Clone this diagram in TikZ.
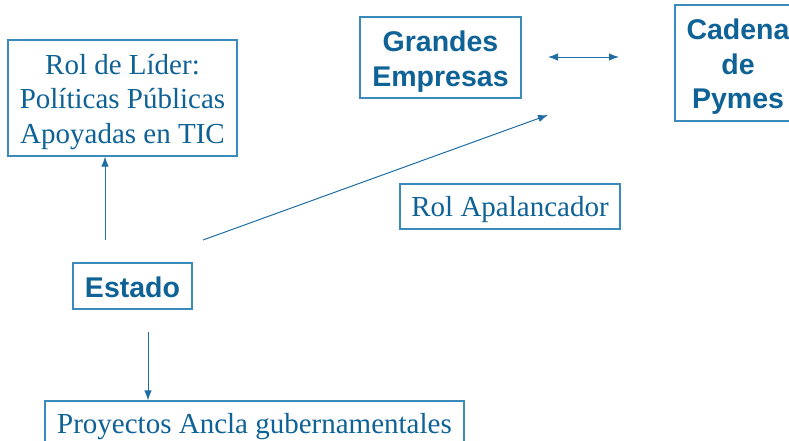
\documentclass[tikz,border=0pt]{standalone}
\usepackage{fontspec}
\setmainfont{Liberation Serif}
\newfontfamily\boldsans{Liberation Sans}
\usetikzlibrary{arrows.meta}
\definecolor{txtblue}{RGB}{14,98,150}
\definecolor{lineblue}{RGB}{58,138,188}
\definecolor{arrowblue}{RGB}{30,110,165}
\tikzset{
  box/.style={draw=lineblue, line width=1.2pt, fill=white, inner sep=0pt},
  seriftext/.style={text=txtblue, align=center, inner sep=0pt, font=\fontsize{29}{34.5}\selectfont},
  sanstext/.style={text=txtblue, align=center, inner sep=0pt, font=\boldsans\bfseries\fontsize{28.5}{34.5}\selectfont},
  tip/.tip={Latex[length=10pt,width=7.5pt]},
  conn/.style={draw=arrowblue, line width=1pt, -tip},
  conn2/.style={draw=arrowblue, line width=1pt, tip-tip}
}
\begin{document}
\begin{tikzpicture}[x=1pt,y=-1pt]
\useasboundingbox (0,0) rectangle (789,440);
\node[box, minimum width=229pt, minimum height=116pt] (lider) at (122.5,98) {};
\node[seriftext] (lidert) at ([yshift=-4pt]lider.center) {Rol de Líder:\\Políticas Públicas\\Apoyadas en TIC};
\node[box, minimum width=161pt, minimum height=81pt] (grandes) at (440.5,57.5) {};
\node[sanstext] (grandest) at ([yshift=-4pt]grandes.center) {Grandes\\Empresas};
\node[box, minimum width=126pt, minimum height=116pt] (cadena) at (738,63) {};
\node[sanstext] (cadenat) at ([yshift=-4pt]cadena.center) {Cadena\\de\\Pymes};
\node[box, minimum width=119pt, minimum height=46pt] (estado) at (132.5,286) {};
\node[sanstext] (estadot) at ([yshift=-1pt]estado.center) {Estado};
\node[box, minimum width=220pt, minimum height=45pt] (apal) at (510,206.5) {};
\node[seriftext] (apalt) at ([yshift=-3pt]apal.center) {Rol Apalancador};
\node[box, minimum width=419pt, minimum height=48pt] (proy) at (254.5,425) {};
\node[seriftext] (proyt) at ([yshift=-2pt]proy.center) {Proyectos Ancla gubernamentales};
\coordinate (up0) at (105,240);
\coordinate (dg0) at (203,240);
\coordinate (dg1) at (548,115);
\coordinate (hz0) at (548,57);
\coordinate (hz1) at (619,57);
\coordinate (dn0) at (148,332);
\draw[conn] (up0) -- (up0 |- lider.south);
\draw[conn] (dg0) -- (dg1);
\draw[conn2] (hz0) -- (hz1);
\draw[conn] (dn0) -- (dn0 |- proy.north);
\end{tikzpicture}
\end{document}
